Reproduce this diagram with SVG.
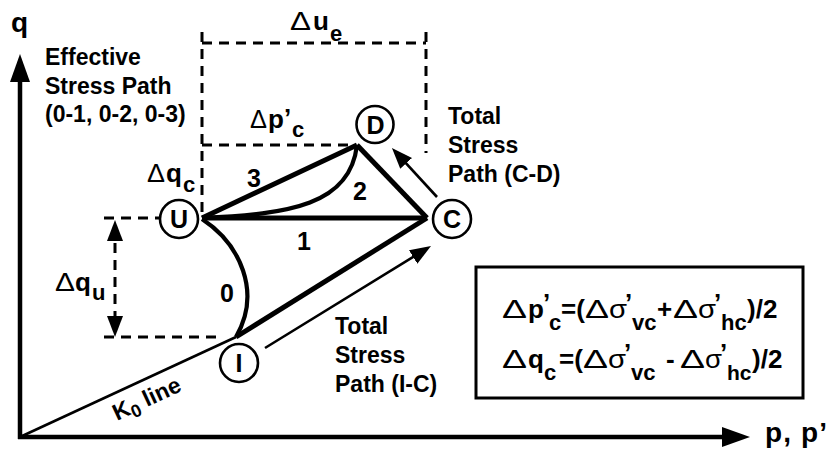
<svg xmlns="http://www.w3.org/2000/svg" width="831" height="454" viewBox="0 0 831 454">
<style>
text{font-family:'Liberation Sans',Arial,sans-serif;font-weight:bold;fill:#000}
.lbl{font-size:23px}
.big{font-size:26px}
.num{font-size:25px}
.ax{font-size:28px}
.nl{font-size:25px;text-anchor:middle}
.dl{font-weight:normal}
.thick{fill:none;stroke:#000;stroke-width:5;stroke-linejoin:miter}
.med{fill:none;stroke:#000;stroke-width:4.2}
.thin{fill:none;stroke:#000;stroke-width:2.6}
.axis{fill:none;stroke:#000;stroke-width:4.5}
.dash{fill:none;stroke:#000;stroke-width:3;stroke-dasharray:10 7}
.node{fill:#fff;stroke:#000;stroke-width:2.6}
</style>
<defs>
<marker id="axArr" markerUnits="userSpaceOnUse" markerWidth="28" markerHeight="20" refX="20" refY="10" orient="auto">
<path d="M0,0 L28,10 L0,20 z" fill="#000"/>
</marker>
<marker id="smArr" markerUnits="userSpaceOnUse" markerWidth="21" markerHeight="16" refX="15" refY="8" orient="auto-start-reverse">
<path d="M0,0 L21,8 L0,16 z" fill="#000"/>
</marker>
</defs>
<rect width="831" height="454" fill="#fff"/>

<g id="axes">
<line class="axis" x1="20" y1="439" x2="20" y2="62" marker-end="url(#axArr)"/>
<line class="axis" x1="18" y1="437" x2="742" y2="437" marker-end="url(#axArr)"/>
<text class="ax" x="11" y="32">q</text>
<text class="ax" x="765" y="442" textLength="62">p, p’</text>
</g>

<g id="guides">
<path class="dash" d="M202,32 V218 M202,43 H426 M426,32 V153 M202,145 H354 M104,218 H160 M104,337 H220"/>
<line class="dash" x1="115" y1="226" x2="115" y2="331" marker-start="url(#smArr)" marker-end="url(#smArr)"/>
</g>

<g id="connectors">
<path class="thin" d="M20,437 L236,337"/>
<path class="thick" d="M236,337 L427,218"/>
<path class="med" d="M202,219 C240,244 262,292 236,337"/>
<path class="thick" d="M202,218 L427,218"/>
<path class="thick" d="M202,218 L357,145"/>
<path class="med" d="M202,218 C290,214 350,205 357,145"/>
<path class="thick" d="M357,145 L427,218"/>
<line class="thin" x1="437" y1="197" x2="396" y2="152.4" marker-end="url(#smArr)"/>
<line class="thin" x1="265" y1="348" x2="425.9" y2="249.1" marker-end="url(#smArr)"/>
</g>

<g id="node-U"><circle class="node" cx="179" cy="219" r="19"/><text class="nl" x="179" y="228">U</text></g>
<g id="node-D"><circle class="node" cx="375" cy="124.5" r="18.5"/><text class="nl" x="375.5" y="133.5">D</text></g>
<g id="node-C"><circle class="node" cx="452" cy="219" r="19"/><text class="nl" x="452" y="228">C</text></g>
<g id="node-I"><circle class="node" cx="239" cy="363" r="19"/><text class="nl" x="239" y="372">I</text></g>

<g id="labels">
<text class="lbl"><tspan x="45" y="65">Effective</tspan><tspan x="45" y="94">Stress Path</tspan><tspan x="45" y="122">(0-1, 0-2, 0-3)</tspan></text>
<text class="lbl"><tspan x="448" y="124">Total</tspan><tspan x="448" y="153">Stress</tspan><tspan x="448" y="182">Path (C-D)</tspan></text>
<text class="lbl"><tspan x="335" y="334">Total</tspan><tspan x="335" y="363">Stress</tspan><tspan x="335" y="392">Path (I-C)</tspan></text>
<text class="lbl" transform="rotate(-24.9 117 421)"><tspan x="117" y="421">K</tspan><tspan font-size="18" dy="5">0</tspan><tspan dy="-5"> line</tspan></text>

<text class="big"><tspan class="dl" x="290" y="30" textLength="21" lengthAdjust="spacingAndGlyphs">Δ</tspan><tspan x="313" y="30">u</tspan><tspan x="330" y="41" font-size="22">e</tspan></text>
<text class="big"><tspan class="dl" x="250" y="128" textLength="17" lengthAdjust="spacingAndGlyphs">Δ</tspan><tspan x="268" y="128">p</tspan><tspan x="284" y="127">’</tspan><tspan x="292" y="137" font-size="22">c</tspan></text>
<text class="big"><tspan class="dl" x="147" y="182" textLength="18" lengthAdjust="spacingAndGlyphs">Δ</tspan><tspan x="166" y="182">q</tspan><tspan x="183" y="192" font-size="22">c</tspan></text>
<text class="big"><tspan class="dl" x="55" y="291" textLength="20" lengthAdjust="spacingAndGlyphs">Δ</tspan><tspan x="75" y="291">q</tspan><tspan x="92" y="300" font-size="22">u</tspan></text>

<text class="num" x="247" y="187">3</text>
<text class="num" x="353" y="200">2</text>
<text class="num" x="297" y="250">1</text>
<text class="num" x="220" y="302">0</text>
</g>

<g id="formula">
<rect x="476" y="267" width="327" height="131" fill="none" stroke="#000" stroke-width="3"/>
<text class="big"><tspan class="dl" x="502" y="318" textLength="25" lengthAdjust="spacingAndGlyphs">Δ</tspan><tspan x="528" y="318">p</tspan><tspan x="543" y="312">’</tspan><tspan x="549" y="330" font-size="22">c</tspan><tspan x="561" y="318">=(</tspan><tspan class="dl" x="585" y="318" textLength="24" lengthAdjust="spacingAndGlyphs">Δ</tspan><tspan class="dl" x="609" y="318" textLength="18" lengthAdjust="spacingAndGlyphs">σ</tspan><tspan x="625" y="312">’</tspan><tspan x="632" y="330" font-size="22">vc</tspan><tspan x="657" y="318">+</tspan><tspan class="dl" x="673" y="318" textLength="25" lengthAdjust="spacingAndGlyphs">Δ</tspan><tspan class="dl" x="698" y="318" textLength="18" lengthAdjust="spacingAndGlyphs">σ</tspan><tspan x="714" y="312">’</tspan><tspan x="721" y="330" font-size="22">hc</tspan><tspan x="747" y="318">)/2</tspan></text>
<text class="big"><tspan class="dl" x="502" y="368" textLength="25" lengthAdjust="spacingAndGlyphs">Δ</tspan><tspan x="528" y="368">q</tspan><tspan x="544" y="380" font-size="22">c</tspan><tspan x="559" y="368">=(</tspan><tspan class="dl" x="583" y="368" textLength="25" lengthAdjust="spacingAndGlyphs">Δ</tspan><tspan class="dl" x="608" y="368" textLength="18" lengthAdjust="spacingAndGlyphs">σ</tspan><tspan x="624" y="362">’</tspan><tspan x="631" y="380" font-size="22">vc</tspan><tspan x="666" y="368">-</tspan><tspan class="dl" x="680" y="368" textLength="25" lengthAdjust="spacingAndGlyphs">Δ</tspan><tspan class="dl" x="705" y="368" textLength="17" lengthAdjust="spacingAndGlyphs">σ</tspan><tspan x="720" y="362">’</tspan><tspan x="727" y="380" font-size="21">hc</tspan><tspan x="752" y="368">)/2</tspan></text>
</g>
</svg>
